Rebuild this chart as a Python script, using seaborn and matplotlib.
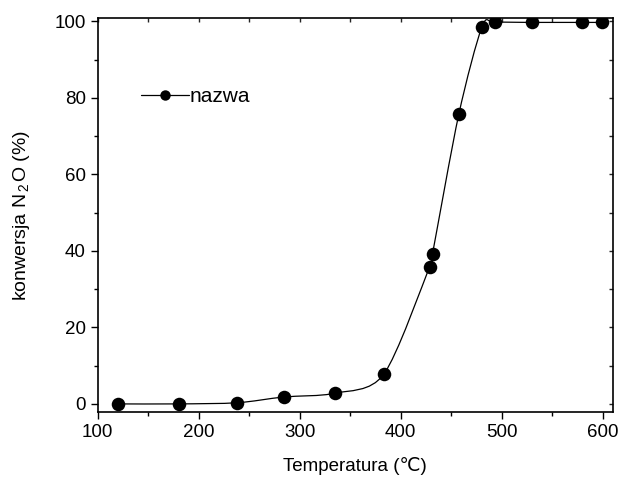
import numpy as np
import pandas as pd
import matplotlib
matplotlib.use('Agg')
import matplotlib.pyplot as plt
from matplotlib.path import Path
from matplotlib.patches import PathPatch
from matplotlib.lines import Line2D
from matplotlib.ticker import MultipleLocator
import seaborn as sns

temperatura = [120, 180, 238, 284, 335, 383, 428.5, 431.5, 457.5, 480.5, 493, 529.5, 579.5, 599]
konwersja = [0, 0, 0.3, 1.8, 2.8, 7.7, 35.8, 39.3, 75.7, 98.6, 99.7, 99.7, 99.7, 99.7]
series_name = 'nazwa'

df = pd.DataFrame({'T': temperatura, 'X': konwersja})

sns.set_theme(style='ticks')
plt.rcParams['font.family'] = ['Liberation Sans', 'DejaVu Sans']
plt.rcParams['mathtext.fontset'] = 'custom'
plt.rcParams['mathtext.rm'] = 'Liberation Sans'
plt.rcParams['mathtext.it'] = 'Liberation Sans'
plt.rcParams['text.color'] = 'black'
plt.rcParams['axes.labelcolor'] = 'black'

fig = plt.figure(figsize=(6.19, 4.79), dpi=100)
ax = fig.add_axes([0.158, 0.140, 0.832, 0.822])

# smooth connector through the points (Catmull-Rom as cubic Bezier)
pts = df[['T', 'X']].to_numpy()
verts = [tuple(pts[0])]
codes = [Path.MOVETO]
for i in range(len(pts) - 1):
    p0 = pts[i - 1] if i > 0 else pts[i]
    p1 = pts[i]
    p2 = pts[i + 1]
    p3 = pts[i + 2] if i + 2 < len(pts) else pts[i + 1]
    c1 = p1 + (p2 - p0) / 7.0
    c2 = p2 - (p3 - p1) / 7.0
    verts += [tuple(c1), tuple(c2), tuple(p2)]
    codes += [Path.CURVE4] * 3
ax.add_patch(PathPatch(Path(verts, codes), facecolor='none', edgecolor='black', lw=0.9, zorder=2))

sns.scatterplot(data=df, x='T', y='X', ax=ax, color='black', s=95, edgecolor='black', linewidth=0, zorder=3, legend=False)

ax.set_xlim(100, 610)
ax.set_ylim(-2.1, 100.8)
ax.xaxis.set_major_locator(MultipleLocator(100))
ax.xaxis.set_minor_locator(MultipleLocator(50))
ax.yaxis.set_major_locator(MultipleLocator(20))
ax.yaxis.set_minor_locator(MultipleLocator(10))
ax.tick_params(which='both', direction='out', colors='black', labelsize=13.5, width=1.0)
ax.tick_params(which='major', length=5)
ax.tick_params(which='minor', length=3)
for s in ax.spines.values():
    s.set_linewidth(1.2)
    s.set_color('black')

# inward ticks on top and right
ax_top = ax.secondary_xaxis('top')
ax_top.xaxis.set_major_locator(MultipleLocator(50))
ax_top.tick_params(direction='in', length=3, width=1.0, labeltop=False)
ax_top.spines['top'].set_visible(False)
ax_right = ax.secondary_yaxis('right')
ax_right.yaxis.set_major_locator(MultipleLocator(10))
ax_right.tick_params(direction='in', length=3, width=1.0, labelright=False)
ax_right.spines['right'].set_visible(False)

ax.set_xlabel('Temperatura (℃)', fontsize=13.5, labelpad=12)
ax.set_ylabel(r'konwersja N$_{\,2\,}$O (%)', fontsize=14, labelpad=16)

handle = Line2D([], [], color='black', lw=0.9, marker='o', markersize=7.5, markerfacecolor='black', markeredgewidth=0)
ax.legend([handle], [series_name], loc='upper left', bbox_to_anchor=(0.068, 0.846), frameon=False,
          fontsize=15, handlelength=2.3, handletextpad=0.0, borderaxespad=0, labelcolor='black')

fig.savefig('out.png', dpi=100)
